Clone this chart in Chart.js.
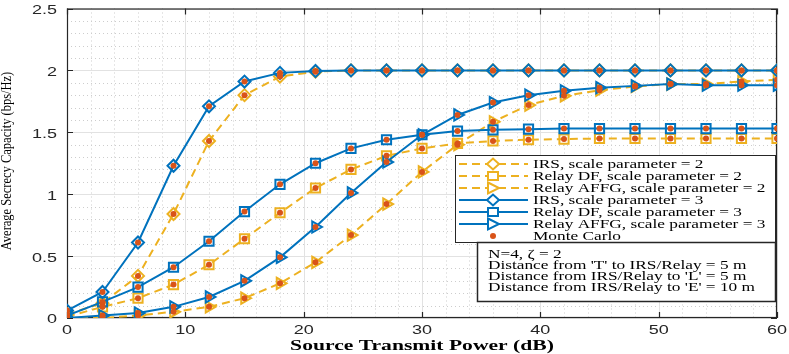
<!DOCTYPE html>
<html>
<head>
<meta charset="utf-8">
<script src="https://cdn.jsdelivr.net/npm/chart.js@4.4.1/dist/chart.umd.min.js"></script>
<style>
  html, body { margin: 0; padding: 0; background: #fff; }
  #wrap { width: 789px; height: 354px; }
</style>
</head>
<body>
<div id="wrap"><canvas id="cv" width="789" height="354"></canvas></div>
<script>
/* Average secrecy capacity vs source transmit power, IRS / Relay DF / Relay AFFG */

const powerDb = [0, 3, 6, 9, 12, 15, 18, 21, 24, 27, 30, 33, 36, 39, 42, 45, 48, 51, 54, 57, 60];

const irs2   = [0.03, 0.12, 0.34, 0.84, 1.43, 1.80, 1.95, 1.99, 2.0, 2.0, 2.0, 2.0, 2.0, 2.0, 2.0, 2.0, 2.0, 2.0, 2.0, 2.0, 2.0];
const df2    = [0.01, 0.09, 0.16, 0.27, 0.43, 0.64, 0.85, 1.05, 1.20, 1.31, 1.37, 1.41, 1.43, 1.44, 1.445, 1.45, 1.45, 1.45, 1.45, 1.45, 1.45];
const affg2  = [0.0, 0.0, 0.02, 0.05, 0.09, 0.16, 0.28, 0.45, 0.67, 0.92, 1.18, 1.40, 1.585, 1.72, 1.795, 1.84, 1.87, 1.89, 1.89, 1.91, 1.925];
const irs3   = [0.06, 0.21, 0.61, 1.23, 1.71, 1.91, 1.98, 1.995, 2.0, 2.0, 2.0, 2.0, 2.0, 2.0, 2.0, 2.0, 2.0, 2.0, 2.0, 2.0, 2.0];
const df3    = [0.02, 0.13, 0.25, 0.41, 0.62, 0.86, 1.08, 1.25, 1.37, 1.44, 1.48, 1.51, 1.52, 1.525, 1.53, 1.53, 1.53, 1.53, 1.53, 1.53, 1.53];
const affg3  = [0.0, 0.02, 0.04, 0.09, 0.17, 0.30, 0.49, 0.735, 1.01, 1.26, 1.48, 1.64, 1.74, 1.80, 1.835, 1.86, 1.875, 1.89, 1.88, 1.88, 1.88];

const xTicks = [0, 10, 20, 30, 40, 50, 60];
const yTicks = [0, 0.5, 1, 1.5, 2, 2.5];
const yTickLabels = ["0", "0.5", "1", "1.5", "2", "2.5"];

const legendLabels = [
  "IRS, scale parameter = 2",
  "Relay DF, scale parameter = 2",
  "Relay AFFG, scale parameter = 2",
  "IRS, scale parameter = 3",
  "Relay DF, scale parameter = 3",
  "Relay AFFG, scale parameter = 3",
  "Monte Carlo",
];
const noteLines = [
  "N=4, \u03b6 = 2",
  "Distance from 'T' to IRS/Relay = 5 m",
  "Distance from IRS/Relay to 'L' = 5 m",
  "Distance from IRS/Relay to 'E' = 10 m",
];
const xTitle = "Source Transmit Power (dB)";
const yTitle = "Average Secrecy Capacity (bps/Hz)";

const BLUE = "#0072BD", YELLOW = "#EDB120", RED = "#D95319";
const AXIS = "#262626", MAJOR = "#e2e2e2", MINOR = "#cdcdcd";
const SX = 1.44; // horizontale Streckung der Schrift (Vorlage ist breitgezogen)

const pts = (arr) => arr.map((v, i) => ({ x: powerDb[i], y: v }));

function series(label, data, color, style, dashed, order) {
  return {
    label,
    data: pts(data),
    borderColor: color,
    borderWidth: 2,
    borderDash: dashed ? [8, 5] : [],
    pointStyle: style.shape,
    pointRadius: style.r,
    pointRotation: style.rot || 0,
    pointBorderColor: color,
    pointBorderWidth: 2,
    pointBackgroundColor: "rgba(0,0,0,0)",
    tension: 0,
    order,
  };
}

const DIAM = { shape: "rectRot", r: 6 };
const SQR = { shape: "rect", r: 6.5 };
const TRI = { shape: "triangle", r: 6.5, rot: 90 };

const monteCarlo = [irs2, df2, affg2, irs3, df3, affg3].flatMap(pts);

function txt(ctx, s, x, y, align, sx) {
  ctx.save();
  ctx.translate(x, y);
  ctx.scale(sx, 1);
  ctx.textAlign = align;
  ctx.fillText(s, 0, 0);
  ctx.restore();
}

function marker(ctx, kind, x, y, color) {
  ctx.save();
  ctx.strokeStyle = color;
  ctx.lineWidth = 2;
  ctx.setLineDash([]);
  ctx.beginPath();
  if (kind === "d") {
    ctx.moveTo(x - 6, y); ctx.lineTo(x, y - 5.5); ctx.lineTo(x + 6, y); ctx.lineTo(x, y + 5.5); ctx.closePath();
    ctx.fillStyle = "#fff"; ctx.fill(); ctx.stroke();
  } else if (kind === "s") {
    ctx.rect(x - 5, y - 4, 10, 8);
    ctx.fillStyle = "#fff"; ctx.fill(); ctx.stroke();
  } else if (kind === "t") {
    ctx.moveTo(x - 5, y - 5.5); ctx.lineTo(x + 6, y); ctx.lineTo(x - 5, y + 5.5); ctx.closePath();
    ctx.fillStyle = "#fff"; ctx.fill(); ctx.stroke();
  } else {
    ctx.fillStyle = color;
    ctx.arc(x, y, 3, 0, Math.PI * 2);
    ctx.fill();
  }
  ctx.restore();
}

/* Gitter, Rahmen, Achsbeschriftung, Legende und Textbox */
const frame = {
  id: "frame",
  beforeDatasetsDraw(chart) {
    const { ctx, chartArea: a, scales: { x, y } } = chart;
    ctx.save();
    ctx.lineWidth = 1;
    // Nebengitter gepunktet
    ctx.strokeStyle = MINOR;
    ctx.setLineDash([1, 3]);
    for (let v = x.min; v <= x.max + 1e-9; v += 2) {
      if (v % 10 === 0) continue;
      const px = Math.round(x.getPixelForValue(v)) + 0.5;
      ctx.beginPath(); ctx.moveTo(px, a.top); ctx.lineTo(px, a.bottom); ctx.stroke();
    }
    for (let k = 1; k < 25; k++) {
      if (k % 5 === 0) continue;
      const py = Math.round(y.getPixelForValue(k / 10)) + 0.5;
      ctx.beginPath(); ctx.moveTo(a.left, py); ctx.lineTo(a.right, py); ctx.stroke();
    }
    // Hauptgitter
    ctx.setLineDash([]);
    ctx.strokeStyle = MAJOR;
    xTicks.forEach((v) => {
      const px = Math.round(x.getPixelForValue(v)) + 0.5;
      ctx.beginPath(); ctx.moveTo(px, a.top); ctx.lineTo(px, a.bottom); ctx.stroke();
    });
    yTicks.forEach((v) => {
      const py = Math.round(y.getPixelForValue(v)) + 0.5;
      ctx.beginPath(); ctx.moveTo(a.left, py); ctx.lineTo(a.right, py); ctx.stroke();
    });
    // Rahmen + Ticks nach innen
    ctx.strokeStyle = AXIS;
    ctx.lineWidth = 1.2;
    ctx.strokeRect(a.left + 0.5, a.top + 0.5, a.right - a.left - 1, a.bottom - a.top - 1);
    xTicks.forEach((v) => {
      const px = Math.round(x.getPixelForValue(v)) + 0.5;
      ctx.beginPath(); ctx.moveTo(px, a.bottom); ctx.lineTo(px, a.bottom - 6);
      ctx.moveTo(px, a.top); ctx.lineTo(px, a.top + 6); ctx.stroke();
    });
    yTicks.forEach((v) => {
      const py = Math.round(y.getPixelForValue(v)) + 0.5;
      ctx.beginPath(); ctx.moveTo(a.left, py); ctx.lineTo(a.left + 6, py);
      ctx.moveTo(a.right, py); ctx.lineTo(a.right - 6, py); ctx.stroke();
    });
    ctx.restore();
  },
  afterDraw(chart) {
    const { ctx, chartArea: a, scales: { x, y } } = chart;
    ctx.save();
    ctx.fillStyle = AXIS;
    ctx.textBaseline = "middle";
    ctx.font = "12.5px 'Liberation Sans', Arial, sans-serif";
    xTicks.forEach((v) => txt(ctx, String(v), x.getPixelForValue(v), a.bottom + 13, "center", SX));
    yTicks.forEach((v, i) => txt(ctx, yTickLabels[i], a.left - 10, y.getPixelForValue(v) + 2, "right", SX));

    ctx.fillStyle = "#000";
    ctx.font = "bold 15px 'Liberation Serif', 'Times New Roman', serif";
    txt(ctx, xTitle, (a.left + a.right) / 2, 346, "center", SX);

    ctx.save();
    ctx.translate(7, 161);
    ctx.rotate(-Math.PI / 2);
    ctx.scale(1, 1.15);
    ctx.font = "12.5px 'Liberation Serif', 'Times New Roman', serif";
    ctx.textAlign = "center";
    ctx.fillText(yTitle, 0, 0);
    ctx.restore();

    // Legende
    const L = { x: 455, y: 155, w: 320, h: 87 };
    ctx.fillStyle = "#fff";
    ctx.fillRect(L.x, L.y, L.w, L.h);
    ctx.strokeStyle = AXIS;
    ctx.lineWidth = 1;
    ctx.strokeRect(L.x + 0.5, L.y + 0.5, L.w, L.h);
    const kinds = ["d", "s", "t", "d", "s", "t", "o"];
    ctx.font = "12px 'Liberation Serif', 'Times New Roman', serif";
    legendLabels.forEach((lab, i) => {
      const cy = 164 + i * 12;
      const col = i < 3 ? YELLOW : i < 6 ? BLUE : RED;
      if (i < 6) {
        ctx.save();
        ctx.strokeStyle = col;
        ctx.lineWidth = 2;
        ctx.setLineDash(i < 3 ? [8, 5] : []);
        ctx.beginPath(); ctx.moveTo(459, cy); ctx.lineTo(528, cy); ctx.stroke();
        ctx.restore();
      }
      marker(ctx, kinds[i], 493, cy, col);
      ctx.fillStyle = "#000";
      txt(ctx, lab, 533, cy + 1, "left", SX);
    });

    // Textbox mit Parametern
    const B = { x: 477, y: 242, w: 298, h: 59 };
    ctx.fillStyle = "#fff";
    ctx.fillRect(B.x, B.y, B.w, B.h);
    ctx.strokeStyle = AXIS;
    ctx.lineWidth = 1.5;
    ctx.strokeRect(B.x + 0.5, B.y + 0.5, B.w, B.h);
    ctx.fillStyle = "#000";
    noteLines.forEach((s, i) => txt(ctx, s, 488, 255 + i * 11, "left", SX));
    ctx.restore();
  },
};

function noAxisSpace(s) {
  if (s.isHorizontal()) s.height = 0; else s.width = 0;
  s.paddingTop = s.paddingBottom = s.paddingLeft = s.paddingRight = 0;
}

new Chart(document.getElementById("cv"), {
  type: "line",
  data: {
    datasets: [
      series(legendLabels[0], irs2, YELLOW, DIAM, true, 2),
      series(legendLabels[1], df2, YELLOW, SQR, true, 2),
      series(legendLabels[2], affg2, YELLOW, TRI, true, 2),
      series(legendLabels[3], irs3, BLUE, DIAM, false, 1),
      series(legendLabels[4], df3, BLUE, SQR, false, 1),
      series(legendLabels[5], affg3, BLUE, TRI, false, 1),
      {
        label: legendLabels[6],
        data: monteCarlo,
        showLine: false,
        pointStyle: "circle",
        pointRadius: 3,
        pointBorderWidth: 0,
        pointBackgroundColor: RED,
        pointBorderColor: RED,
        order: 0,
      },
    ],
  },
  options: {
    responsive: false,
    animation: false,
    devicePixelRatio: 1,
    layout: { padding: { left: 67, right: 12, top: 5, bottom: 36 } },
    plugins: { legend: { display: false }, tooltip: { enabled: false } },
    scales: {
      x: {
        type: "linear", min: 0, max: 60,
        grid: { display: false }, border: { display: false },
        ticks: { display: false },
        afterFit: noAxisSpace,
      },
      y: {
        type: "linear", min: 0, max: 2.5,
        grid: { display: false }, border: { display: false },
        ticks: { display: false },
        afterFit: noAxisSpace,
      },
    },
  },
  plugins: [frame],
});
</script>
</body>
</html>
